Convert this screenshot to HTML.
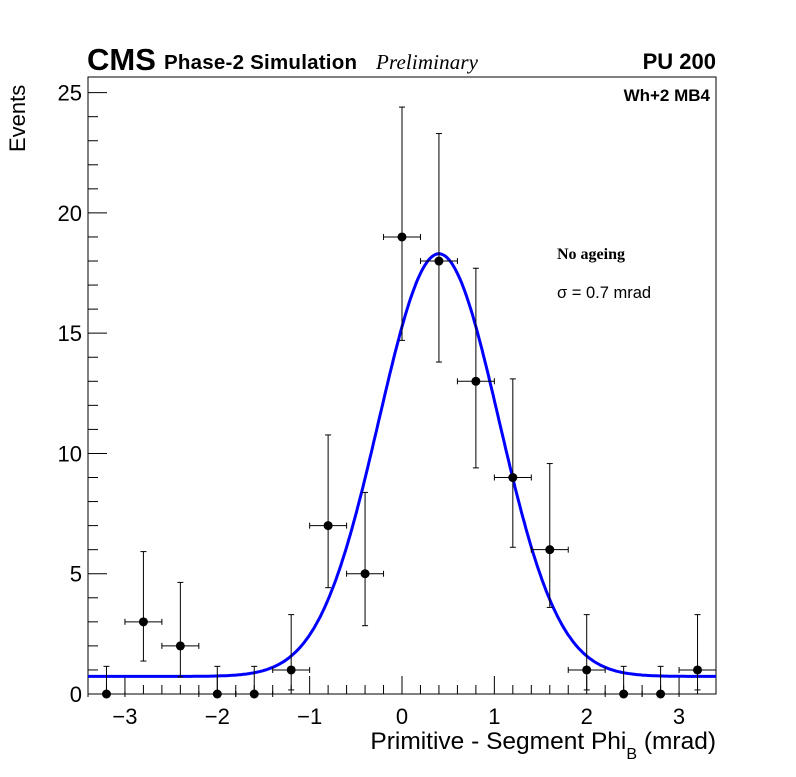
<!DOCTYPE html>
<html><head><meta charset="utf-8"><style>
body{margin:0;background:#fff}
svg text{font-family:"Liberation Sans",sans-serif}
</style></head><body>
<svg id="c" width="796" height="772" xmlns="http://www.w3.org/2000/svg">
<rect width="796" height="772" fill="#fff"/>
<text x="87" y="70" font-size="31" font-weight="bold">CMS</text>
<text x="164" y="69" font-size="20.5" font-weight="bold" textLength="193">Phase-2 Simulation</text>
<text x="376" y="69" font-size="21" font-style="italic" textLength="102" style="font-family:'Liberation Serif',serif">Preliminary</text>
<text x="716" y="69" font-size="22" font-weight="bold" text-anchor="end">PU 200</text>
<text x="710" y="101" font-size="17" font-weight="bold" text-anchor="end">Wh+2 MB4</text>
<text x="557" y="259" font-size="16" font-weight="bold" style="font-family:'Liberation Serif',serif">No ageing</text>
<text x="557" y="298" font-size="16.5">σ = 0.7 mrad</text>
<text transform="translate(25,152) rotate(-90)" font-size="22">Events</text>
<text x="716" y="749" font-size="24.5" text-anchor="end">Primitive - Segment Phi<tspan font-size="16" dy="10">B</tspan><tspan dy="-10"> (mrad)</tspan></text>
<g id="axes"></g><g id="fit"></g><g id="pts"></g>
</svg>
<script>
const xVals=[-3.2,-2.8,-2.4,-2.0,-1.6,-1.2,-0.8,-0.4,0,0.4,0.8,1.2,1.6,2.0,2.4,2.8,3.2];
const yVals=[0,3,2,0,0,1,7,5,19,18,13,9,6,1,0,0,1];
const errLow=[0,1.63,1.29,0,0,0.83,2.58,2.16,4.3,4.2,3.6,2.9,2.4,0.83,0,0,0.83];
const errHigh=[1.15,2.92,2.64,1.15,1.15,2.3,3.77,3.38,5.4,5.3,4.7,4.1,3.58,2.3,1.15,1.15,2.3];
const binHalf=[0.2];
const fitParams=[0.73,17.57,0.4,0.65]; // const, amp, mean, sigma
const xTicks=[-3,-2,-1,0,1,2,3];
const yTicks=[0,5,10,15,20,25];
const L=88,R=716,T=77,B=694,xmin=-3.4,xmax=3.40,ymin=0,ymax=25.65;
const sx=v=>L+(v-xmin)/(xmax-xmin)*(R-L);
const sy=v=>B-(v-ymin)/(ymax-ymin)*(B-T);
const NS="http://www.w3.org/2000/svg";
function mk(p,t,a){const e=document.createElementNS(NS,t);for(const k in a)e.setAttribute(k,a[k]);p.appendChild(e);return e;}
const ax=document.getElementById('axes');
const fr=mk(ax,'rect',{x:L,y:T,width:R-L,height:B-T,fill:'none',stroke:'#000','stroke-width':1});


for(let v=-3.2;v<=3.3;v+=0.2){const x=sx(v);const maj=Math.abs(v-Math.round(v))<1e-6;
 const l=mk(ax,'line',{x1:x,x2:x,y1:B,y2:B-(maj?18:9),stroke:'#000'});
 
 }
xTicks.forEach(v=>{const t=mk(ax,'text',{x:sx(v),y:724,'font-size':22,'text-anchor':'middle'});t.textContent=(v<0?'−':'')+Math.abs(v);
 
 });
for(let v=0;v<=25;v+=1){const y=sy(v);const maj=v%5==0;
 const l=mk(ax,'line',{x1:L,x2:L+(maj?19:10),y1:y,y2:y,stroke:'#000'});
 
 }
yTicks.forEach(v=>{const t=mk(ax,'text',{x:82,y:sy(v)+8,'font-size':22,'text-anchor':'end'});t.textContent=v;
 
 });
const f=fitParams;let d='';
for(let i=0;i<=400;i++){const v=xmin+(xmax-xmin)*i/400;const y=f[0]+f[1]*Math.exp(-Math.pow(v-f[2],2)/(2*f[3]*f[3]));d+=(i?'L':'M')+sx(v).toFixed(1)+','+sy(y).toFixed(1);}
const fp=mk(document.getElementById('fit'),'path',{d:d,fill:'none',stroke:'#0000ff','stroke-width':3});


const pg=document.getElementById('pts');
xVals.forEach((v,i)=>{const g=mk(pg,'g',{stroke:'#000','stroke-width':1});
 
 
 const x=sx(v),y=sy(yVals[i]);
 mk(g,'line',{x1:sx(v-binHalf[0]),x2:sx(v+binHalf[0]),y1:y,y2:y});
 mk(g,'line',{x1:sx(v-binHalf[0]),x2:sx(v-binHalf[0]),y1:y-3,y2:y+3});
 mk(g,'line',{x1:sx(v+binHalf[0]),x2:sx(v+binHalf[0]),y1:y-3,y2:y+3});
 const yl=sy(yVals[i]-errLow[i]),yh=sy(yVals[i]+errHigh[i]);
 mk(g,'line',{x1:x,x2:x,y1:yl,y2:yh});
 mk(g,'line',{x1:x-3,x2:x+3,y1:yh,y2:yh});
 if(errLow[i]>0)mk(g,'line',{x1:x-3,x2:x+3,y1:yl,y2:yl});
 mk(g,'circle',{cx:x,cy:y,r:4.5,fill:'#000',stroke:'none'});
});
</script>
</body></html>
